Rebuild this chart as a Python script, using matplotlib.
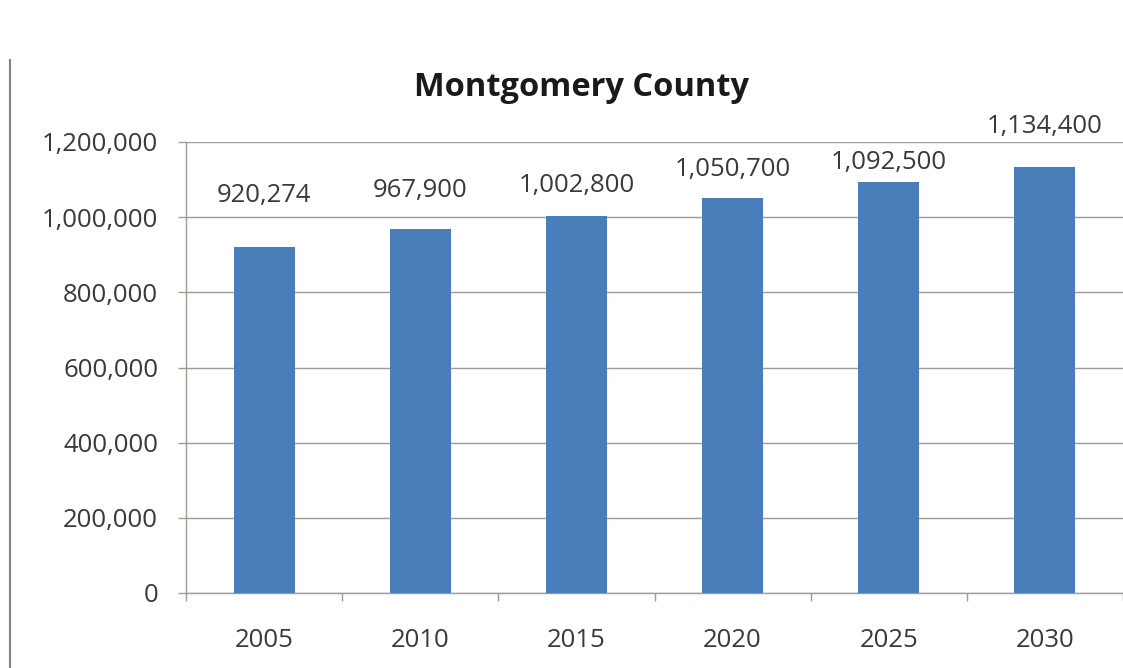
import matplotlib
matplotlib.use("Agg")
import matplotlib.pyplot as plt
from matplotlib.ticker import FuncFormatter, FixedLocator

years = ["2005", "2010", "2015", "2020", "2025", "2030"]
population = [920274, 967900, 1002800, 1050700, 1092500, 1134400]
yticks = [0, 200000, 400000, 600000, 800000, 1000000, 1200000]

# label offsets above bar tops (points), styling only
label_offsets = [37, 28, 22, 20.5, 14, 29]

plt.rcParams['font.family'] = ['Open Sans', 'DejaVu Sans']

fig = plt.figure(figsize=(11.23, 6.68), dpi=100)
ax = fig.add_axes([186/1123, 1-593/668, 937/1123, (593-142)/668])

grid_c = '#a39a94'
text_c = '#3a3a3a'
bar_c = '#4a7ebb'
fs = 18.5

x = list(range(len(years)))
ax.bar(x, population, width=0.39, color=bar_c, zorder=3)
ax.set_xlim(-0.5, len(years) - 0.5)
ax.set_ylim(0, 1200000)
ax.yaxis.set_major_locator(FixedLocator(yticks))
ax.yaxis.set_major_formatter(FuncFormatter(lambda v, p: f"{int(v):,}"))
ax.set_xticks(x)
ax.set_xticklabels(years)
ax.tick_params(axis='x', length=0, pad=25, labelsize=fs, labelcolor=text_c)
ax.set_xticks([i - 0.5 for i in range(len(years) + 1)], minor=True)
ax.tick_params(axis='x', which='minor', length=6, color=grid_c, width=1)
ax.tick_params(axis='y', length=6, color=grid_c, width=1, pad=14, labelsize=fs, labelcolor=text_c)
ax.grid(axis='y', color=grid_c, linewidth=1, zorder=0)
for s in ['top', 'right']:
    ax.spines[s].set_visible(False)
for s in ['left', 'bottom']:
    ax.spines[s].set_color(grid_c)
    ax.spines[s].set_linewidth(1)

for i, v in enumerate(population):
    ax.annotate(f"{v:,}", (i, v), xytext=(0, label_offsets[i]), textcoords='offset points',
                ha='center', va='center', fontsize=fs, color=text_c)

fig.text(582/1123, 1-87/668, "Montgomery County", ha='center', va='center',
         fontsize=23.5, fontweight='bold', color='#1a1a1a')

fig.add_artist(plt.Line2D([10/1123, 10/1123], [0, 1-60/668], transform=fig.transFigure,
                          color='#8c7f78', linewidth=1.5))

fig.savefig("out.png", dpi=100)
